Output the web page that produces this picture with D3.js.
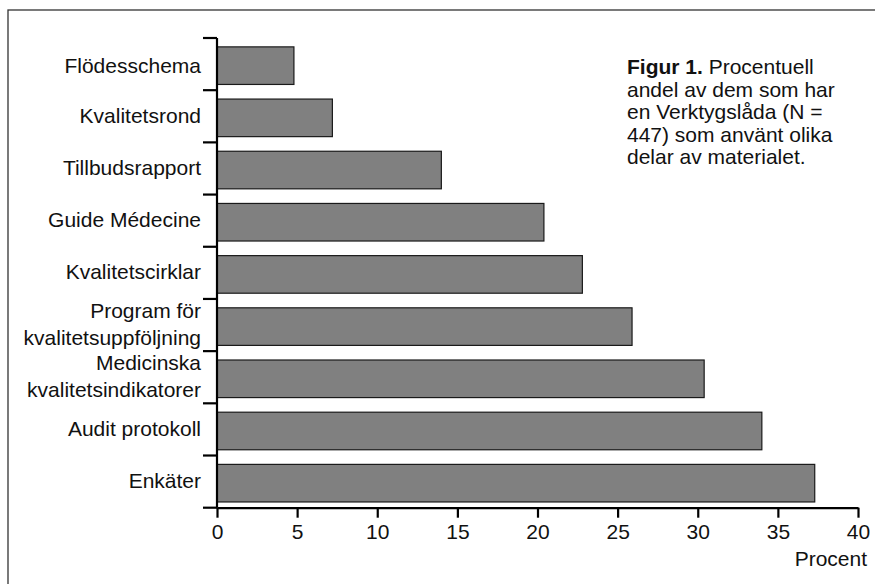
<!DOCTYPE html>
<html><head><meta charset="utf-8">
<script src="https://cdn.jsdelivr.net/npm/d3@7"></script>
<style>
html,body{margin:0;padding:0;background:#fff;}
svg text{font-family:"Liberation Sans",Arial,sans-serif;fill:#111;}
</style></head>
<body>
<svg id="chart" width="875" height="584"></svg>
<script>
const categories = [
  ["Flödesschema"],
  ["Kvalitetsrond"],
  ["Tillbudsrapport"],
  ["Guide Médecine"],
  ["Kvalitetscirklar"],
  ["Program för", "kvalitetsuppföljning"],
  ["Medicinska", "kvalitetsindikatorer"],
  ["Audit protokoll"],
  ["Enkäter"]
];
const values = [4.8, 7.2, 14.0, 20.4, 22.8, 25.9, 30.4, 34.0, 37.3];
const xTicks = [0, 5, 10, 15, 20, 25, 30, 35, 40];
const axisTitle = "Procent";
const noteBold = "Figur 1.";
const noteLines = [" Procentuell", "andel av dem som har", "en Verktygslåda (N =", "447) som använt olika", "delar av materialet."];

const svg = d3.select("#chart");
const keys = categories.map((c, i) => i);
const x = d3.scaleLinear().domain([0, 40]).range([217, 858]);
const y = d3.scaleBand().domain(keys).range([38, 507.7]).padding(0);
const step = y.step();
const FS = 21;

// frame
svg.append("rect").attr("x", 8).attr("y", 10).attr("width", 880).attr("height", 590)
  .attr("fill", "none").attr("stroke", "#333").attr("stroke-width", 1.3);

// bars
svg.append("g").selectAll("rect").data(values).join("rect")
  .attr("x", x(0))
  .attr("y", (d, i) => y(i) + step * 0.17)
  .attr("width", d => x(d) - x(0))
  .attr("height", step * 0.72)
  .attr("fill", "#808080")
  .attr("stroke", "#1a1a1a")
  .attr("stroke-width", 1.2);

// y axis line + boundary ticks
const bounds = keys.map(k => y(k)).concat([y.range()[1]]);
svg.append("line").attr("x1", x(0)).attr("x2", x(0)).attr("y1", bounds[0]).attr("y2", bounds[bounds.length-1])
  .attr("stroke", "#000").attr("stroke-width", 2.2);
svg.append("g").selectAll("line").data(bounds).join("line")
  .attr("x1", 203).attr("x2", x(0)).attr("y1", d => d).attr("y2", d => d)
  .attr("stroke", "#000").attr("stroke-width", 2.2);

// category labels
const lab = svg.append("g").selectAll("text").data(categories).join("text")
  .attr("text-anchor", "end")
  .attr("font-size", FS)
  .attr("transform", (d, i) => `translate(201,${y(i) + step / 2})`);
lab.each(function(d, i) {
  const t = d3.select(this);
  if (d.length === 1) {
    t.append("tspan").attr("x", 0).attr("y", i === 0 ? 9 : 6.5).text(d[0]);
  } else {
    t.append("tspan").attr("x", 0).attr("y", -7.5).text(d[0]);
    t.append("tspan").attr("x", 0).attr("y", 19.5).text(d[1]);
  }
});

// x axis
const xAxis = d3.axisBottom(x).tickValues(xTicks).tickSize(10).tickSizeOuter(0).tickPadding(6);
const gx = svg.append("g").attr("transform", "translate(0,507.7)").call(xAxis);
gx.select(".domain").attr("stroke", "#000").attr("stroke-width", 2.2);
gx.selectAll(".tick line").attr("stroke", "#000").attr("stroke-width", 2.2);
gx.selectAll(".tick text").attr("font-size", FS).attr("font-family", "Liberation Sans, Arial, sans-serif").attr("fill", "#111");

svg.append("text").attr("x", 867).attr("y", 566).attr("text-anchor", "end").attr("font-size", FS).text(axisTitle);

// note
const note = svg.append("text").attr("x", 627).attr("y", 74).attr("font-size", FS);
note.append("tspan").attr("font-weight", "bold").text(noteBold);
note.append("tspan").text(noteLines[0]);
noteLines.slice(1).forEach((l, i) => {
  svg.append("text").attr("x", 627).attr("y", 74 + 22.6 * (i + 1)).attr("font-size", FS).text(l);
});
</script>
</body></html>
